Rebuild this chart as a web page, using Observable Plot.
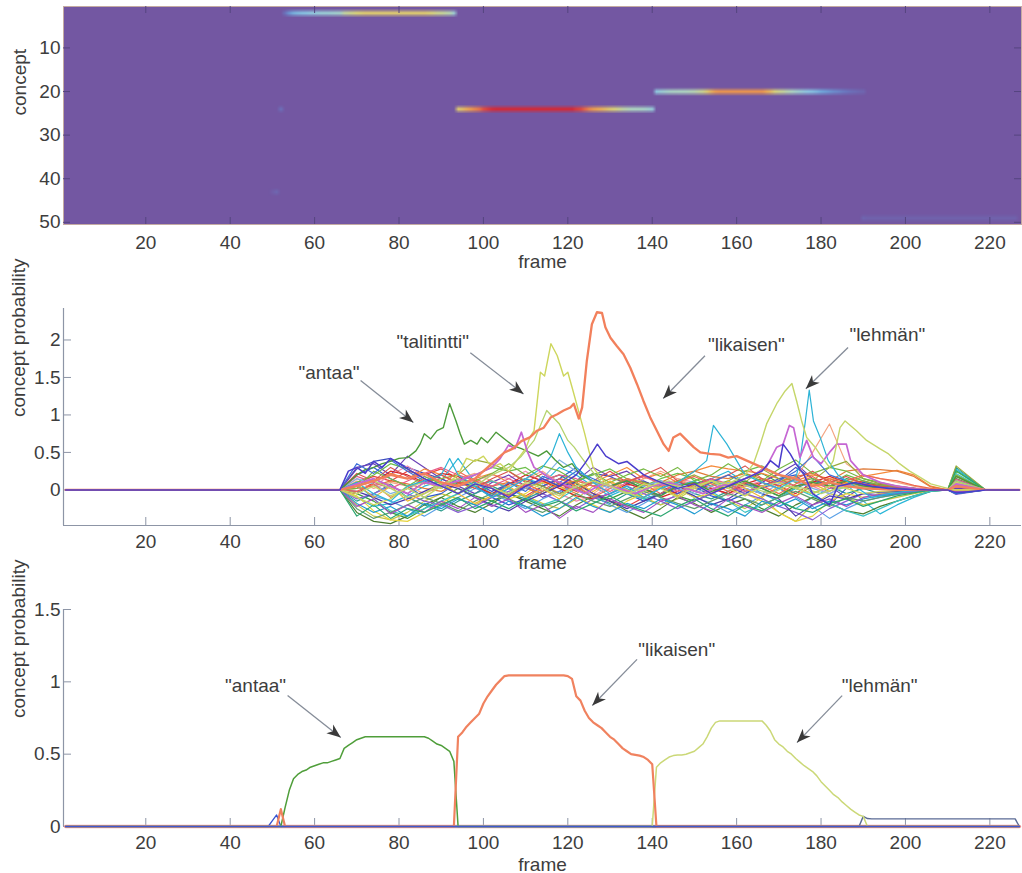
<!DOCTYPE html>
<html><head><meta charset="utf-8">
<script src="https://cdn.jsdelivr.net/npm/d3@7"></script>
<script src="https://cdn.jsdelivr.net/npm/@observablehq/plot@0.6"></script>
<style>
html,body{margin:0;padding:0;background:#fff;}
#chart{width:1022px;height:873px;overflow:hidden;}
#chart svg{display:block;}
</style></head><body><div id="chart"></div>
<script>
// ---------- axes / ticks ----------
const frameTicks = [20, 40, 60, 80, 100, 120, 140, 160, 180, 200, 220];
const conceptTicks = [10, 20, 30, 40, 50];
const midTicks = [0, 0.5, 1, 1.5, 2];
const lowTicks = [0, 0.5, 1, 1.5];
const frameDomain = [0.5, 227.5];
const conceptDomain = [0.5, 50.5];
const midDomain = [-0.475, 2.42];
const lowDomain = [0, 1.5];
const nFrames = 227;
const nConcepts = 50;

// ---------- bottom panel: concept probabilities (per-frame segments) ----------
const antaaLow = [0,0.13,0.25,0.33,0.36,0.38,0.39,0.41,0.42,0.43,0.44,0.44,0.45,0.46,0.47,0.54,0.56,0.58,0.6,0.61,0.62,
  0.62,0.62,0.62,0.62,0.62,0.62,0.62,0.62,0.62,0.62,0.62,0.62,0.62,0.62,
  0.61,0.59,0.57,0.56,0.54,0.52,0.45,0];
const likaisenLow = [0,0.62,0.65,0.69,0.72,0.75,0.78,0.85,0.9,0.94,0.98,1.01,1.04,
  1.045,1.045,1.045,1.045,1.045,1.045,1.045,1.045,1.045,1.045,1.045,1.045,1.045,1.045,
  1.04,1.02,0.9,0.87,0.8,0.75,0.72,0.7,0.68,0.65,0.62,0.6,0.57,0.54,0.52,0.5,0.495,0.49,0.48,0.46,0.43,0];
const likaisenBump = [0, 0.12, 0];
const lehmanLow = [0,0.41,0.44,0.46,0.48,0.49,0.495,0.495,0.5,0.51,0.52,0.545,0.57,0.62,0.68,0.72,
  0.73,0.73,0.73,0.73,0.73,0.73,0.73,0.73,0.73,0.73,0.73,
  0.7,0.66,0.6,0.57,0.55,0.52,0.5,0.47,0.445,0.42,0.4,0.38,0.35,0.31,0.28,0.25,0.22,0.2,0.17,0.145,0.12,0.1,0.08,0.07,0];
const blueBump = [0, 0.04, 0.08, 0];
const slateLow = [0,0.07,0.055,
  0.053,0.053,0.053,0.053,0.053,0.053,0.053,0.053,0.053,0.053,0.053,0.053,0.053,0.053,0.053,0.053,0.053,0.053,
  0.053,0.053,0.053,0.053,0.053,0.053,0.053,0.053,0.053,0.053,0.053,0.053,0.053,0.053,0.053,0.053,0.053,0];

const segConcept = [2, 24, 24, 20, 43, 49];
const segStart   = [52, 51, 93, 140, 49, 189];
const segValues  = [antaaLow, likaisenBump, likaisenLow, lehmanLow, blueBump, slateLow];

const lowConcepts = [1, 43, 49, 2, 20, 24, 50];
const lowColors   = ["#f3a3ab", "#3552d2", "#5b6b95", "#4f9e3a", "#cbd877", "#f0825f", "#3f58cf"];
const lowWidths   = [3.5, 1.3, 1.4, 1.5, 1.5, 2.2, 1.6];

// ---------- heatmap colour map ----------
const heatStops  = [0, 0.15, 0.3, 0.4, 0.5, 0.6, 0.7, 0.82, 0.95];
const heatColors = ["#7357a2", "#6a78c0", "#6fa8dc", "#8cc8e4", "#b0d8c0", "#dcd677", "#f0aa50", "#e85a40", "#d42a36"];

// ---------- middle panel: background concepts (frames 70..206 every 4) ----------
const bgFrames = [70,74,78,82,86,90,94,98,102,106,110,114,118,122,126,130,134,138,142,146,150,154,158,162,166,170,174,178,182,186,190,194,198,202,206];
const leadFrames = [1, 66];
const tailFrames = [210, 212, 219, 227];
const bgRows = [
[0.28,0.38,0.42,0.30,0.22, 0.15,0.05,0.10,-0.02,0.08, 0.15,0.05,-0.05,0.10,0.22, 0.18,0.08,0.12,0.02,-0.05, 0.05,0.12,0.08,-0.02,0.05, 0.12,0.30,0.15,0.05,0.10, 0.04,0.02,0.03,0.01,0.00],
[-0.05,-0.15,-0.30,-0.38,-0.25, -0.10,0.02,-0.08,-0.15,-0.05, 0.05,0.12,0.20,0.08,-0.05, -0.12,-0.02,0.10,0.05,-0.08, -0.15,-0.05,0.08,0.15,0.22, 0.10,0.02,-0.05,0.05,0.15, 0.10,0.05,0.02,-0.01,0.00],
[0.10,0.18,0.12,0.25,0.20, 0.28,0.15,0.05,0.12,0.02, -0.08,0.05,0.15,0.10,-0.05, -0.15,-0.22,-0.10,0.05,0.12, 0.08,0.02,-0.05,0.05,0.10, 0.02,-0.08,0.05,0.15,0.08, 0.12,0.06,0.03,0.02,0.00],
[-0.10,-0.22,-0.18,-0.08,0.05, 0.12,0.42,0.10,-0.05,0.05, 0.15,0.08,0.30,0.20,0.05, -0.08,0.02,-0.12,-0.20,-0.05, 0.05,0.15,0.25,0.10,-0.05, -0.15,-0.25,-0.10,0.02,0.08, -0.15,-0.32,-0.20,-0.10,-0.02],
[0.15,0.05,0.20,0.32,0.18, 0.10,0.05,0.12,0.20,0.15, 0.25,0.10,-0.05,-0.15,-0.08, 0.05,0.12,-0.05,0.05,0.15, 0.10,0.05,-0.08,0.05,0.12, 0.20,0.10,0.05,-0.05,0.08, 0.10,0.05,0.04,0.02,0.00],
[-0.20,-0.35,-0.40,-0.30,-0.15, -0.05,-0.12,-0.20,-0.10,0.02, -0.08,-0.18,-0.25,-0.12,0.05, 0.10,-0.02,-0.10,-0.20,-0.12, 0.02,-0.05,-0.15,-0.25,-0.10, -0.30,-0.42,-0.20,-0.05,-0.10, -0.20,-0.15,-0.10,-0.05,-0.01],
[0.30,0.35,0.20,0.45,0.30, 0.15,0.05,-0.05,0.10,0.20, 0.05,-0.10,-0.02,0.12,0.30, 0.18,0.25,0.10,0.05,-0.05, 0.08,0.15,0.05,-0.05,0.10, 0.22,0.35,0.15,0.05,-0.10, 0.05,0.08,0.04,0.02,0.00],
[0.05,0.12,0.22,0.15,0.28, 0.20,0.08,0.15,0.22,0.10, 0.02,0.12,0.05,-0.05,0.10, 0.20,0.30,0.15,0.22,0.10, 0.25,0.32,0.28,0.25,0.22, 0.15,0.12,0.20,0.15,0.08, 0.18,0.22,0.26,0.20,0.05],
[-0.15,-0.05,0.08,-0.10,-0.20, -0.28,-0.15,-0.05,0.05,-0.05, -0.12,-0.02,0.10,0.02,-0.10, -0.18,-0.05,0.05,0.12,0.05, -0.05,-0.12,-0.02,0.08,0.02, -0.08,0.02,0.12,0.05,-0.05, 0.02,-0.05,-0.03,-0.02,0.00],
[-0.30,-0.42,-0.45,-0.35,-0.20, -0.10,-0.22,-0.30,-0.18,-0.05, -0.15,-0.25,-0.35,-0.20,-0.08, -0.15,-0.28,-0.38,-0.25,-0.10, -0.18,-0.30,-0.20,-0.12,-0.25, -0.35,-0.20,-0.10,-0.18,-0.28, -0.32,-0.22,-0.15,-0.08,-0.02],
[0.05,-0.08,-0.15,-0.25,-0.35, -0.22,-0.10,0.02,-0.05,-0.15, -0.25,-0.12,-0.02,0.05,-0.08, -0.20,-0.30,-0.18,-0.05,0.02, -0.10,-0.18,-0.30,-0.20,-0.08, 0.02,-0.10,-0.22,-0.38,-0.25, -0.15,-0.10,-0.06,-0.03,0.00],
[0.12,0.02,0.10,0.05,-0.05, 0.05,0.15,0.22,0.12,0.05, 0.15,0.25,0.10,0.02,-0.05, 0.10,0.05,0.15,0.25,0.15, 0.05,0.12,0.20,0.10,0.02, 0.08,0.15,0.50,0.88,0.35, 0.20,0.15,0.10,0.05,0.01],
[0.20,0.30,0.15,0.05,-0.10, -0.05,0.10,0.05,-0.10,-0.20, -0.12,0.05,0.15,0.30,0.10, 0.05,-0.05,-0.15,-0.05,0.10, 0.05,-0.08,-0.15,-0.05,0.05, 0.15,0.20,-0.05,-0.20,0.02, 0.10,0.05,0.02,0.01,0.00],
[-0.08,-0.28,-0.40,-0.42,-0.30, -0.18,-0.05,0.05,-0.05,-0.12, -0.05,0.10,0.05,-0.10,-0.20, -0.30,-0.15,-0.05,0.08,0.02, -0.10,-0.05,0.05,-0.05,-0.15, -0.30,-0.42,-0.35,-0.15,-0.05, -0.10,-0.05,-0.03,-0.01,0.00],
[-0.05,0.10,0.25,0.20,0.10, 0.22,0.18,0.05,-0.05,0.08, 0.20,0.12,0.02,-0.08,-0.12, -0.05,0.08,0.02,-0.10,-0.02, 0.08,0.02,-0.05,0.08,0.15, 0.05,-0.05,0.10,0.18,0.10, 0.05,0.08,0.05,0.02,0.00],
[0.10,0.20,0.35,0.28,0.15, 0.05,0.10,0.20,0.30,0.25, 0.30,0.15,0.05,0.12,0.20, 0.28,0.15,0.05,0.15,0.22, 0.15,0.05,0.12,0.25,0.32, 0.20,0.10,0.15,0.08,0.20, 0.12,0.06,0.04,0.02,0.00],
[-0.12,-0.05,0.05,-0.05,-0.15, -0.20,-0.30,-0.22,-0.10,-0.02, 0.05,-0.05,-0.15,-0.25,-0.12, -0.05,0.05,-0.05,-0.15,-0.25, -0.15,-0.05,0.05,-0.05,-0.12, -0.22,-0.30,-0.40,-0.25,-0.15, -0.05,-0.08,-0.05,-0.02,0.00],
[0.02,0.05,0.12,0.08,0.02, -0.02,0.08,0.15,0.05,0.10, 0.02,-0.05,0.08,0.12,0.05, 0.15,0.12,0.18,0.10,0.20, 0.25,0.18,0.15,0.22,0.15, 0.10,0.18,0.22,0.12,0.25, 0.28,0.27,0.25,0.18,0.04],
[0.08,-0.12,-0.28,-0.35,-0.25, -0.15,-0.05,0.05,0.12,0.02, -0.10,-0.20,-0.12,0.02,0.10, 0.05,-0.05,-0.12,-0.05,0.05, 0.12,-0.02,-0.15,-0.30,-0.20, -0.10,0.02,-0.08,-0.18,-0.28, -0.35,-0.25,-0.15,-0.08,-0.02],
[0.05,0.15,0.05,-0.05,0.10, 0.15,0.20,0.40,0.35,0.25, 0.12,0.05,-0.05,0.02,0.10, 0.05,0.15,0.10,0.02,0.12, 0.20,0.10,0.02,0.10,0.28, 0.15,0.05,0.12,0.30,0.38, 0.15,0.08,0.04,0.02,0.00],
[-0.02,-0.10,-0.20,-0.12,-0.02, 0.08,0.02,-0.10,-0.20,-0.28, -0.15,-0.05,0.05,0.10,-0.05, -0.15,-0.25,-0.15,-0.05,0.02, -0.08,-0.20,-0.12,0.02,-0.05, -0.12,-0.35,-0.20,-0.08,-0.12, -0.05,-0.03,-0.02,-0.01,0.00],
[0.18,0.10,0.02,0.12,0.22, 0.30,0.20,0.12,0.05,0.15, 0.05,0.12,0.20,0.15,0.05, -0.02,0.10,0.18,0.08,-0.02, 0.05,0.15,0.08,-0.02,0.05, 0.12,0.05,0.10,0.02,0.08, 0.05,0.03,0.02,0.01,0.00],
[-0.25,-0.38,-0.30,-0.20,-0.10, -0.18,-0.28,-0.15,-0.05,-0.12, -0.22,-0.30,-0.18,-0.05,-0.15, -0.22,-0.12,-0.02,-0.10,-0.18, -0.25,-0.15,-0.05,-0.12,-0.20, -0.10,-0.02,-0.12,-0.22,-0.10, -0.15,-0.10,-0.06,-0.03,0.00],
[0.15,0.08,-0.05,0.02,0.12, 0.05,-0.05,0.08,0.02,-0.08, 0.02,0.15,0.40,0.25,0.10, 0.02,-0.05,0.05,0.12,0.02, -0.05,0.05,0.10,0.02,-0.05, 0.08,0.12,0.02,-0.05,0.05, 0.08,0.04,0.02,0.01,0.00],
[0.22,0.12,0.30,0.18,0.08, 0.20,0.10,0.02,0.15,0.25, 0.10,0.22,0.08,-0.02,0.12, 0.25,0.10,0.20,0.30,0.12, 0.02,0.10,0.20,0.32,0.15, 0.05,0.15,0.25,0.10,0.18, 0.08,0.05,0.03,0.01,0.00],
[-0.18,-0.30,-0.22,-0.35,-0.18, -0.25,-0.12,-0.20,-0.30,-0.15, -0.22,-0.35,-0.25,-0.10,-0.22, -0.30,-0.18,-0.25,-0.12,-0.20, -0.32,-0.18,-0.25,-0.35,-0.15, -0.22,-0.12,-0.25,-0.15,-0.20, -0.12,-0.08,-0.05,-0.02,0.00],
[0.02,0.25,0.15,0.05,0.18, 0.08,-0.05,0.12,0.22,0.35, 0.20,0.32,0.25,0.12,0.22, 0.10,0.20,0.28,0.18,0.30, 0.12,0.20,0.35,0.22,0.12, 0.28,0.40,0.22,0.30,0.25, 0.15,0.10,0.05,0.02,0.00],
[-0.22,-0.12,-0.32,-0.20,-0.30, -0.15,-0.25,-0.10,-0.22,-0.12, -0.30,-0.20,-0.38,-0.22,-0.30, -0.12,-0.22,-0.30,-0.15,-0.08, -0.20,-0.28,-0.12,-0.22,-0.30, -0.18,-0.08,-0.20,-0.12,-0.22, -0.10,-0.06,-0.04,-0.02,0.00],
[0.08,-0.10,0.05,-0.15,-0.05, 0.10,-0.05,-0.18,-0.08,0.05, -0.10,0.02,-0.12,0.10,-0.02, 0.12,0.00,-0.10,0.05,-0.08, 0.08,-0.05,0.12,0.02,-0.10, 0.05,-0.08,0.08,-0.02,0.10, 0.02,0.01,0.00,0.00,0.00],
[0.35,0.22,0.40,0.25,0.12, 0.02,0.15,0.05,-0.08,0.10, -0.02,0.18,0.10,0.25,0.15, 0.05,0.12,0.02,-0.08,0.08, -0.02,0.10,0.20,0.10,0.02, 0.12,0.25,0.45,0.20,0.12, 0.05,0.03,0.02,0.01,0.00],
[-0.35,-0.20,-0.38,-0.25,-0.30, -0.20,-0.10,-0.25,-0.15,-0.25, -0.12,-0.22,-0.15,-0.28,-0.18, -0.08,-0.20,-0.28,-0.35,-0.22, -0.12,-0.25,-0.35,-0.20,-0.28, -0.15,-0.25,-0.30,-0.18,-0.12, -0.22,-0.15,-0.08,-0.04,0.00],
[-0.02,0.08,-0.10,0.02,0.15, 0.05,0.25,0.12,0.02,-0.08, 0.08,-0.02,0.15,0.05,-0.10, 0.02,0.15,0.08,-0.05,0.10, 0.18,0.08,-0.02,0.10,0.05, -0.05,0.08,0.18,0.05,0.12, 0.20,0.15,0.12,0.06,0.02]
];
const bgBumps = [0.05,0.15,-0.02,0.28,0.10,-0.05,0.02,0.20,0.30,-0.04,0.00,0.12,-0.03,0.00,0.18,0.25,-0.06,0.08,0.22,0.32,-0.05,0.14,0.06,0.10,
  0.04,-0.05,0.20,-0.03,0.00,0.12,0.26,0.05];
const bgColors = ["#3b4cc0","#3c9a3c","#e8413c","#29b6d8","#f08cb0","#c9c544","#6a3fb5","#f5893a","#2f9e8f","#4d7f2e","#5aa0e6","#f4a582","#2f5bd0","#e6d33c","#d62728","#6cbf4a","#8a5cd6","#e07b39","#3cc3c3","#9aab3a","#4b3aa8","#e85d8a","#5f9e6e","#7fb2e5",
  "#d9534f","#1f9bd1","#77b843","#a24fc2","#f0b530","#3c6fd8","#2aa66f","#ee6a50"];

// ---------- middle panel: highlighted concepts ([frame, value]) ----------
const midAntaa = [[1,0],[66,0],[68,0.1],[70,0.2],[72,0.27],[74,0.3],[76,0.35],[78,0.38],[80,0.42],[82,0.43],[84,0.52],[85,0.61],[86,0.75],[87.5,0.68],[89,0.79],[90.5,0.83],[92,1.15],[93.5,0.92],[94.5,0.75],[95.5,0.61],[97,0.66],[98.5,0.61],[99.5,0.7],[101,0.63],[103,0.77],[105,0.68],[107,0.59],[109,0.55],[111,0.5],[113,0.45],[115,0.52],[117,0.4],[119,0.3],[121,0.35],[123,0.2],[126,0.12],[130,0.05],[134,0.12],[138,0.02],[142,-0.08],[146,0.05],[150,0.1],[154,-0.02],[158,0.05],[162,0.12],[166,0.02],[170,-0.08],[174,0.05],[178,0.1],[182,0.05],[186,0.12],[190,0.05],[194,0.02],[198,0.01],[202,0],[210,0],[212,0.18],[219,0],[227,0]];
const midTalitintti = [[1,0],[66,0],[70,-0.1],[74,-0.2],[78,-0.12],[82,0.05],[86,0.1],[90,0.02],[94,0.2],[96,0.42],[98,0.38],[100,0.45],[102,0.3],[104,0.35],[106,0.25],[108,0.4],[110,0.55],[111,0.7],[112,0.79],[113.5,1.57],[114.5,1.52],[116,1.95],[117.5,1.79],[119,1.52],[120,1.57],[121,1.37],[122.5,1.06],[124,0.75],[125,0.52],[126,0.3],[128,0.15],[130,0.05],[134,-0.05],[138,0.08],[142,0.02],[146,-0.1],[150,0.05],[154,0.12],[158,0.02],[162,-0.08],[166,0.05],[170,0.1],[174,0.02],[178,-0.05],[182,0.05],[186,0.02],[190,-0.05],[194,-0.02],[198,-0.01],[202,0],[210,0],[212,0.1],[219,0],[227,0]];
const midSecond = [[1,0],[66,0],[70,0.05],[74,0.12],[78,0.02],[82,-0.1],[86,-0.05],[90,0.08],[94,0.15],[98,0.05],[102,0.2],[106,0.3],[109,0.45],[112,0.66],[115,1.06],[116.5,0.97],[118,0.88],[120,0.66],[121.5,0.57],[123,0.45],[125,0.3],[128,0.1],[132,0.02],[136,-0.08],[140,0.05],[144,0.12],[148,0.02],[152,-0.05],[156,0.05],[160,0.1],[164,0.02],[168,-0.05],[172,0.05],[176,0.02],[180,-0.05],[184,0.02],[188,0.05],[192,0.02],[196,0.01],[200,0],[210,0],[212,0.12],[219,0],[227,0]];
const midCyan = [[1,0],[66,0],[70,0.1],[74,-0.05],[78,-0.15],[82,0.05],[86,0.12],[90,0.2],[92,0.42],[94,0.2],[98,0.05],[102,-0.1],[106,0.02],[110,0.15],[114,0.3],[116,0.45],[118,0.75],[120,0.5],[122,0.3],[126,0.1],[130,-0.05],[134,0.05],[138,-0.1],[142,0.02],[146,0.1],[150,0.25],[152.9,0.39],[154.5,0.86],[157.7,0.61],[160,0.39],[162,0.2],[166,0.1],[170,0.02],[174,0.15],[175,0.39],[176.2,0.88],[177.2,1.33],[178.2,0.92],[179.8,0.7],[181.7,0.39],[184,0.2],[188,0.05],[192,-0.1],[196,-0.05],[200,-0.02],[206,0],[210,0],[212,0.05],[219,0],[227,0]];
const midMagenta = [[1,0],[66,0],[70,0.08],[74,0.15],[78,0.05],[82,-0.05],[86,0.1],[90,0.05],[94,0.12],[98,0.2],[102,0.3],[104,0.42],[106,0.6],[107.5,0.55],[109,0.77],[110.5,0.5],[112,0.3],[116,0.15],[120,0.05],[124,-0.05],[128,0.08],[132,0.02],[136,-0.05],[140,0.05],[144,0.1],[148,0.02],[152,-0.05],[156,0.05],[160,0.1],[164,0.2],[167,0.3],[169.5,0.57],[171,0.61],[172.5,0.86],[173.5,0.83],[175,0.43],[176.6,0.66],[178.2,0.43],[180,0.35],[182,0.5],[183.7,0.61],[186,0.61],[187,0.39],[190,0.2],[194,0.1],[198,0.05],[202,0.02],[206,0],[210,0],[212,0.08],[219,0],[227,0]];
const midLehman = [[1,0],[66,0],[70,-0.05],[74,0.05],[78,-0.08],[82,0.02],[86,-0.1],[90,0.05],[94,-0.05],[98,0.08],[102,0.02],[106,-0.05],[110,0.1],[114,0.02],[118,-0.08],[122,0.05],[126,0.12],[130,0.05],[134,-0.05],[138,0.02],[142,0.1],[146,0.05],[150,0.02],[154,0.12],[158,0.08],[162,0.2],[164,0.35],[165.6,0.61],[167.1,0.88],[169.5,1.15],[171.5,1.32],[173.1,1.42],[174.2,1.19],[175.4,0.92],[176.6,0.7],[178.6,0.57],[180,0.45],[182,0.3],[182.9,0.39],[184.5,0.83],[185.7,0.92],[188.4,0.79],[190.8,0.66],[193.9,0.55],[196,0.48],[198.6,0.35],[201,0.25],[203.4,0.17],[206,0.08],[210,0.02],[212,0],[219,0],[227,0]];
const midLikaisen = [[1,0],[66,0],[70,0.05],[74,0.12],[78,0.2],[82,0.15],[86,0.22],[90,0.1],[94,0.05],[98,0.15],[100,0.25],[103,0.4],[105,0.5],[107,0.55],[109,0.65],[111,0.7],[112.7,0.79],[114.3,0.83],[116,0.97],[117.5,1.01],[119,1.06],[120.6,1.1],[121.4,1.15],[122.6,0.95],[123.4,1.1],[124.5,1.72],[125.7,2.21],[126.9,2.37],[128.1,2.36],[128.9,2.17],[130.1,2.03],[131.6,1.92],[133.2,1.81],[134.8,1.63],[136.4,1.41],[137.9,1.19],[139.5,0.97],[141.1,0.79],[142.7,0.61],[143.9,0.52],[145,0.7],[146.6,0.75],[148.2,0.66],[149.8,0.57],[151.4,0.5],[153.7,0.48],[156,0.47],[158,0.43],[160,0.45],[162,0.4],[164,0.35],[166,0.3],[168,0.25],[170,0.2],[174,0.15],[178,0.05],[182,0.1],[186,0.05],[190,0.02],[194,0.01],[198,0],[210,0],[212,0.05],[219,0],[227,0]];
const midIndigo = [[1,0],[66,0],[68,0.25],[70,0.3],[72,0.22],[74,0.38],[76,0.3],[78,0.42],[80,0.35],[82,0.28],[86,0.15],[90,0.05],[94,-0.05],[98,0.08],[102,0.02],[106,-0.1],[110,0.05],[114,0.15],[118,0.05],[122,0.2],[124,0.35],[126,0.52],[127,0.61],[129,0.45],[132,0.35],[134,0.38],[138,0.2],[142,0.1],[146,0.02],[150,0.08],[154,-0.05],[158,0.05],[162,0.15],[166,0.25],[168,0.39],[170,0.3],[171,0.61],[172.7,0.48],[174,0.35],[176,0.2],[178,-0.05],[182,-0.2],[184,0.05],[188,0.1],[192,0.05],[196,0.02],[200,0.01],[206,0],[210,0],[212,-0.04],[219,0],[227,0]];
const hiColors = ["#4c9a3a", "#cdd65c", "#b5d36e", "#2cb3d6", "#c566d3", "#c5d66a", "#f2805c", "#4a3ccc"];
const hiWidths = [1.4, 1.4, 1.3, 1.2, 1.7, 1.4, 2.3, 1.5];

// ---------- annotations ----------
const midLabels = ['"antaa"', '"talitintti"', '"likaisen"', '"lehmän"'];
const midLabelX = [63.4, 88.0, 162.3, 195.7];
const midLabelY = [1.56, 1.98, 1.94, 2.07];
const midArrowFrom = [[70.9, 1.46], [96.9, 1.83], [152.5, 1.79], [186.4, 1.9]];
const midArrowTo   = [[83.4, 0.9], [109.5, 1.28], [142.6, 1.22], [176.4, 1.35]];
const lowLabels = ['"antaa"', '"likaisen"', '"lehmän"'];
const lowLabelX = [46.0, 145.8, 193.9];
const lowLabelY = [0.97, 1.224, 0.97];
const lowArrowFrom = [[53.6, 0.905], [136.4, 1.155], [185.0, 0.905]];
const lowArrowTo   = [[66.2, 0.615], [125.8, 0.836], [174.3, 0.58]];

// ---------- build ----------
const FONT = "'Liberation Sans', Arial, Helvetica, sans-serif";
const textColor = "#3d3d3d";
const axisColor = "#8d95a6";
const arrowColor = "#858c98";
const fmt = d => `${d}`;

bgRows.forEach((r, i) => { if (r.length !== bgFrames.length) throw new Error("bg row " + i + " has " + r.length); });

function lowValueAt(c, f) {
  for (let s = 0; s < segConcept.length; s++) {
    if (segConcept[s] !== c) continue;
    const k = f - segStart[s];
    if (k >= 0 && k < segValues[s].length) return segValues[s][k];
  }
  return 0;
}
function lowPoints(c) {
  const pts = [[1, 0]];
  const idx = segConcept.map((d, i) => i).filter(i => segConcept[i] === c).sort((a, b) => segStart[a] - segStart[b]);
  for (const s of idx) segValues[s].forEach((v, k) => pts.push([segStart[s] + k, v]));
  pts.push([nFrames, 0]);
  return pts;
}
function bgPoints(i) {
  const pts = leadFrames.map(f => [f, 0]);
  bgFrames.forEach((f, k) => pts.push([f, bgRows[i][k]]));
  tailFrames.forEach((f, k) => pts.push([f, k === 1 ? bgBumps[i] : 0]));
  return pts;
}

const heatCells = [];
for (let c = 1; c <= nConcepts; c++)
  for (let f = 1; f <= nFrames; f++) heatCells.push({f, c, v: lowValueAt(c, f)});

function arrowHead() {
  const m = d3.create("svg:marker")
    .attr("viewBox", "-16 -8 20 16")
    .attr("markerWidth", 20).attr("markerHeight", 16)
    .attr("markerUnits", "userSpaceOnUse")
    .attr("orient", "auto").attr("refX", 0).attr("refY", 0)
    .attr("overflow", "visible");
  m.append("path").attr("d", "M0,0L-14,-5.5L-10,0L-14,5.5Z").attr("fill", "#3a3a3a").attr("stroke", "none");
  return m.node();
}

function annotations(labels, lx, ly, from, to, custom) {
  const idx = labels.map((d, i) => i);
  return [
    Plot.link(idx, {x1: i => from[i][0], y1: i => from[i][1], x2: i => to[i][0], y2: i => to[i][1],
      stroke: arrowColor, strokeWidth: 1.3, markerEnd: custom ? arrowHead : "arrow"}),
    Plot.text(labels, {x: (d, i) => lx[i], y: (d, i) => ly[i], text: d => d, fill: textColor, lineAnchor: "middle"})
  ];
}

const baseStyle = {fontFamily: FONT, fontSize: "19px", color: textColor, background: "transparent", overflow: "visible"};

function buildAll(custom) {
  const W = 1022, ML = 63, MR = 1;
  const innerW = W - ML - MR;

  // top heatmap
  const topH = 280, topMT = 6, topMB = 56, topInner = topH - topMT - topMB;
  const p1 = Plot.plot({
    width: W, height: topH, marginLeft: ML, marginRight: MR, marginTop: topMT, marginBottom: topMB,
    style: baseStyle,
    x: {domain: frameDomain},
    y: {domain: conceptDomain, reverse: true},
    color: {type: "linear", domain: heatStops, range: heatColors, interpolate: "rgb", clamp: true},
    marks: [
      Plot.raster(heatCells, {x: "f", y: "c", fill: "v", x1: frameDomain[0], x2: frameDomain[1], y1: conceptDomain[0], y2: conceptDomain[1], width: nFrames, height: nConcepts}),
      Plot.frame({stroke: "#c4aaa2"}),
      Plot.tickX(frameTicks, {x: d => d, insetTop: topInner - 7, stroke: "#55457f"}),
      Plot.tickX(frameTicks, {x: d => d, insetBottom: topInner - 7, stroke: "#55457f"}),
      Plot.tickY(conceptTicks, {y: d => d, insetRight: innerW - 7, stroke: "#55457f"}),
      Plot.tickY(conceptTicks, {y: d => d, insetLeft: innerW - 7, stroke: "#55457f"}),
      Plot.axisX({ticks: frameTicks, tickSize: 0, tickPadding: 10.5, label: null, tickFormat: fmt}),
      Plot.axisY({ticks: conceptTicks, tickSize: 0, tickPadding: 3, label: null, tickFormat: fmt}),
      Plot.text(["frame"], {frameAnchor: "bottom", dy: 43, lineAnchor: "bottom", text: d => d, fill: textColor}),
      Plot.text(["concept"], {frameAnchor: "left", dx: -44, rotate: -90, text: d => d, fill: textColor})
    ]
  });

  // middle lines
  const midH = 300, midMT = 28, midMB = 55, midInner = midH - midMT - midMB;
  const hiSeries = [midAntaa, midTalitintti, midSecond, midCyan, midMagenta, midLehman, midLikaisen, midIndigo];
  const p2 = Plot.plot({
    width: W, height: midH, marginLeft: ML, marginRight: MR, marginTop: midMT, marginBottom: midMB,
    style: baseStyle,
    x: {domain: frameDomain},
    y: {domain: midDomain},
    marks: [
      Plot.ruleY([midDomain[0]], {stroke: axisColor, strokeWidth: 1.2}),
      Plot.ruleX([frameDomain[0]], {stroke: axisColor, strokeWidth: 1.2}),
      Plot.tickX(frameTicks, {x: d => d, insetTop: midInner - 8, stroke: axisColor}),
      Plot.tickY(midTicks, {y: d => d, insetRight: innerW - 8, stroke: axisColor}),
      ...bgRows.map((r, i) => Plot.line(bgPoints(i), {x: d => d[0], y: d => d[1], stroke: bgColors[i], strokeWidth: 1.15})),
      ...hiSeries.map((s, i) => Plot.line(s, {x: d => d[0], y: d => d[1], stroke: hiColors[i], strokeWidth: hiWidths[i]})),
      Plot.axisX({ticks: frameTicks, tickSize: 0, tickPadding: 8.5, label: null, tickFormat: fmt}),
      Plot.axisY({ticks: midTicks, tickSize: 0, tickPadding: 3, label: null, tickFormat: fmt}),
      Plot.text(["frame"], {frameAnchor: "bottom", dy: 43, lineAnchor: "bottom", text: d => d, fill: textColor}),
      Plot.text(["concept probability"], {frameAnchor: "left", dx: -45, rotate: -90, text: d => d, fill: textColor}),
      ...annotations(midLabels, midLabelX, midLabelY, midArrowFrom, midArrowTo, custom)
    ]
  });

  // bottom lines
  const lowH = 293, lowMT = 29, lowMB = 47, lowInner = lowH - lowMT - lowMB;
  const p3 = Plot.plot({
    width: W, height: lowH, marginLeft: ML, marginRight: MR, marginTop: lowMT, marginBottom: lowMB,
    style: baseStyle,
    x: {domain: frameDomain},
    y: {domain: lowDomain},
    marks: [
      Plot.ruleY([lowDomain[0]], {stroke: axisColor, strokeWidth: 1.2}),
      Plot.ruleX([frameDomain[0]], {stroke: axisColor, strokeWidth: 1.2}),
      Plot.tickX(frameTicks, {x: d => d, insetTop: lowInner - 8, stroke: axisColor}),
      Plot.tickY(lowTicks, {y: d => d, insetRight: innerW - 8, stroke: axisColor}),
      ...lowConcepts.map((c, i) => Plot.line(lowPoints(c), {x: d => d[0], y: d => d[1], stroke: lowColors[i], strokeWidth: lowWidths[i]})),
      Plot.axisX({ticks: frameTicks, tickSize: 0, tickPadding: 8.5, label: null, tickFormat: fmt}),
      Plot.axisY({ticks: lowTicks, tickSize: 0, tickPadding: 3, label: null, tickFormat: fmt}),
      Plot.text(["frame"], {frameAnchor: "bottom", dy: 44, lineAnchor: "bottom", text: d => d, fill: textColor}),
      Plot.text(["concept probability"], {frameAnchor: "left", dx: -45, rotate: -90, text: d => d, fill: textColor}),
      ...annotations(lowLabels, lowLabelX, lowLabelY, lowArrowFrom, lowArrowTo, custom)
    ]
  });
  return [p1, p2, p3];
}

let plots;
try { plots = buildAll(true); } catch (e) { console.warn(e); plots = buildAll(false); }
const root = document.getElementById("chart");
plots.forEach(p => root.appendChild(p));
</script></body></html>
